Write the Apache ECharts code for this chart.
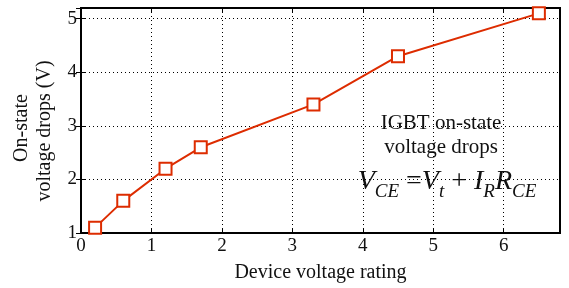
<!DOCTYPE html>
<html>
<head>
<meta charset="utf-8">
<script src="https://cdn.jsdelivr.net/npm/echarts@6/dist/echarts.min.js"></script>
<style>
  html, body { margin: 0; padding: 0; background: #fff; }
  #chart { width: 569px; height: 288px; }
</style>
</head>
<body>
<div id="chart"></div>
<script>
// data
const ratings = [0.2, 0.6, 1.2, 1.7, 3.3, 4.5, 6.5]
const drops = [1.1, 1.6, 2.2, 2.6, 3.4, 4.3, 5.1]
const xTicks = [0, 1, 2, 3, 4, 5, 6]
const yTicks = [1, 2, 3, 4, 5]

const FONT = '"Liberation Serif", "DejaVu Serif", serif'
const RED = '#dd2c00'
const INK = '#111'

const gridLine = { show: true, lineStyle: { color: '#000', type: [1, 3], width: 1 } }
const frameLine = { show: true, lineStyle: { color: '#000', width: 2 } }
const innerTick = { show: true, inside: true, length: 5, lineStyle: { color: '#000' } }

const option = {
  animation: false,
  grid: { left: 81, right: 9, top: 8, bottom: 55, show: true, borderColor: '#000', borderWidth: 2 },
  xAxis: [
    {
      type: 'value', min: 0, max: 6.8, interval: 1,
      name: 'Device voltage rating', nameLocation: 'middle', nameGap: 30,
      nameTextStyle: { fontFamily: FONT, fontSize: 20, color: INK },
      axisLine: frameLine,
      axisTick: innerTick,
      axisLabel: {
        showMaxLabel: false, margin: 4, fontFamily: FONT, fontSize: 19, color: INK,
        formatter: v => xTicks.includes(v) ? String(v) : ''
      },
      splitLine: gridLine
    },
    {
      type: 'value', min: 0, max: 6.8, interval: 1, position: 'top',
      axisLine: frameLine, axisTick: innerTick,
      axisLabel: { show: false }, splitLine: { show: false }
    }
  ],
  yAxis: [
    {
      type: 'value', min: 1, max: 5.2, interval: 1,
      axisLine: frameLine,
      axisTick: innerTick,
      axisLabel: {
        showMaxLabel: false, margin: 4, fontFamily: FONT, fontSize: 19, color: INK,
        formatter: v => yTicks.includes(v) ? String(v) : ''
      },
      splitLine: gridLine
    },
    {
      type: 'value', min: 1, max: 5.2, interval: 1, position: 'right',
      axisLine: frameLine, axisTick: innerTick,
      axisLabel: { show: false }, splitLine: { show: false }
    }
  ],
  graphic: [
    {
      type: 'text', x: 22, y: 128, rotation: Math.PI / 2,
      style: {
        text: 'On-state', fontFamily: FONT, fontSize: 20, fill: INK,
        align: 'center', verticalAlign: 'middle'
      }
    },
    {
      type: 'text', x: 45, y: 131, rotation: Math.PI / 2,
      style: {
        text: 'voltage drops (V)', fontFamily: FONT, fontSize: 20, fill: INK,
        align: 'center', verticalAlign: 'middle'
      }
    },
    {
      type: 'text', x: 441, y: 123,
      style: {
        text: 'IGBT on-state', fontFamily: FONT, fontSize: 21, fill: INK,
        align: 'center', verticalAlign: 'middle'
      }
    },
    {
      type: 'text', x: 441, y: 147,
      style: {
        text: 'voltage drops', fontFamily: FONT, fontSize: 21, fill: INK,
        align: 'center', verticalAlign: 'middle'
      }
    },
    {
      type: 'text', x: 447, y: 182,
      style: {
        text: '{v|V}{s|CE}{o| =}{v|V}{s|t}{o| + }{v|I}{s|R}{v|R}{s|CE}',
        align: 'center', verticalAlign: 'middle',
        rich: {
          v: { fontFamily: FONT, fontSize: 28, fontStyle: 'italic', fill: INK, verticalAlign: 'bottom' },
          s: { fontFamily: FONT, fontSize: 19, fontStyle: 'italic', fill: INK, verticalAlign: 'bottom', padding: [0, 0, -5, 0] },
          o: { fontFamily: FONT, fontSize: 28, fill: INK, verticalAlign: 'bottom' }
        }
      }
    }
  ],
  series: [
    {
      type: 'line',
      data: ratings.map((r, i) => [r, drops[i]]),
      symbol: 'emptyRect', symbolSize: 12,
      lineStyle: { color: RED, width: 2 },
      itemStyle: { color: RED, borderWidth: 2, borderColor: RED }
    }
  ]
}

const myChart = echarts.init(document.getElementById('chart'))
myChart.setOption(option)
</script>
</body>
</html>
